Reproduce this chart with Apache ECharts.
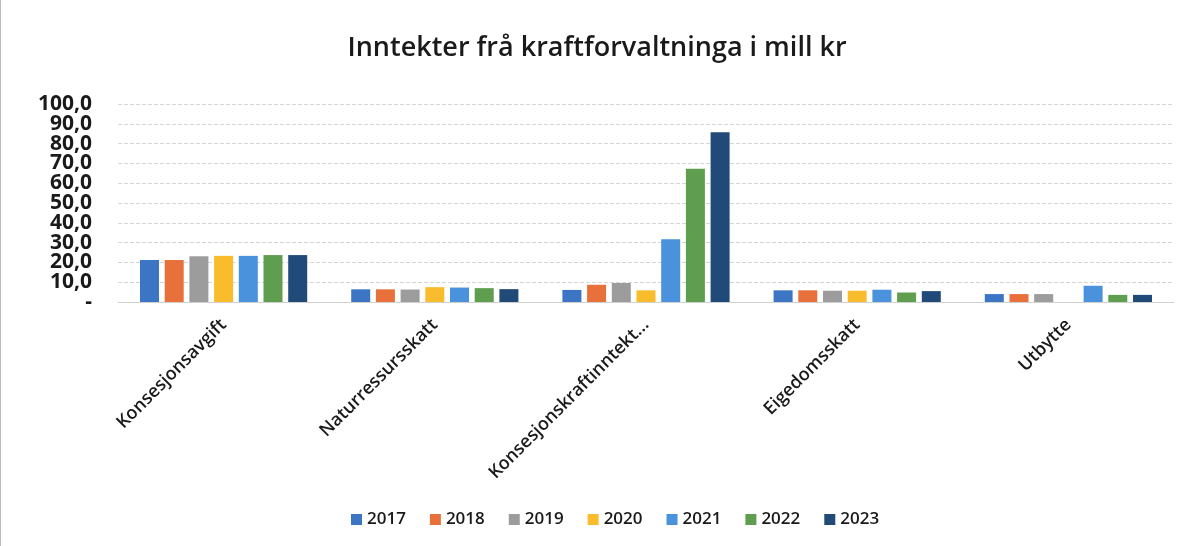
<!DOCTYPE html>
<html>
<head>
<meta charset="utf-8">
<script src="https://cdn.jsdelivr.net/npm/echarts@6/dist/echarts.min.js"></script>
<style>
  html, body { margin: 0; padding: 0; background: #fff; }
  #chart { width: 1193px; height: 546px; box-sizing: border-box; border-left: 1px solid #bbb; }
</style>
</head>
<body>
<div id="chart"></div>
<script>
// categories and values (mill kr)
const categories = ['Konsesjonsavgift', 'Naturressursskatt', 'Konsesjonskraftinntekt...', 'Eigedomsskatt', 'Utbytte']
const years = ['2017', '2018', '2019', '2020', '2021', '2022', '2023']
const v2017 = [21.2, 6.4, 6.1, 5.9, 4.0]
const v2018 = [21.2, 6.4, 8.7, 5.9, 4.0]
const v2019 = [23.1, 6.3, 9.6, 5.7, 4.0]
const v2020 = [23.3, 7.5, 5.9, 5.7, 0]
const v2021 = [23.3, 7.3, 31.7, 6.2, 8.2]
const v2022 = [23.7, 7.0, 67.3, 4.8, 3.6]
const v2023 = [23.7, 6.5, 85.7, 5.5, 3.6]
const yearValues = [v2017, v2018, v2019, v2020, v2021, v2022, v2023]
const colors = ['#3B75C4', '#E8703A', '#9C9C9C', '#F8BC2C', '#4A92DC', '#5E9E4E', '#214A78']
// y tick labels, split over two axes so the big bold labels are not dropped as overlapping
const evenTicks = [0, 20, 40, 60, 80, 100]
const oddTicks = [10, 30, 50, 70, 90]

const font = '"Open Sans", "Liberation Sans", sans-serif'

const chart = echarts.init(document.getElementById('chart'))

const series = years.map((y, i) => ({
  name: y,
  type: 'bar',
  data: yearValues[i],
  barWidth: 19,
  barGap: '30%',
  itemStyle: { color: colors[i] },
}))

const yLabel = (ticks) => ({
  margin: 26,
  customValues: ticks,
  fontFamily: font,
  fontSize: 21,
  fontWeight: 700,
  color: '#1a1a1a',
  formatter: (v) => (v === 0 ? '-' : v.toFixed(1).replace('.', ',')),
})

chart.setOption({
  animation: false,
  title: {
    text: 'Inntekter frå kraftforvaltninga i mill kr',
    left: 'center',
    top: 30,
    textStyle: { fontFamily: font, fontSize: 27, fontWeight: 600, color: '#1a1a1a' },
  },
  legend: {
    bottom: 13,
    left: 345,
    itemWidth: 11,
    itemHeight: 11,
    itemGap: 24,
    icon: 'rect',
    textStyle: { fontFamily: font, fontSize: 17, fontWeight: 600, color: '#1a1a1a' },
  },
  grid: { left: 117, right: 19, top: 104, bottom: 244, containLabel: false },
  xAxis: {
    type: 'category',
    data: categories,
    axisTick: { show: false },
    axisLine: { lineStyle: { color: '#d0d0d0' } },
    axisLabel: {
      rotate: 45,
      interval: 0,
      margin: 20,
      fontFamily: font,
      fontSize: 18,
      fontWeight: 600,
      color: '#1a1a1a',
    },
  },
  yAxis: [
    {
      type: 'value',
      min: 0,
      max: 100,
      interval: 10,
      axisLine: { show: false },
      axisTick: { show: false },
      splitLine: { lineStyle: { color: '#d6d6d6', type: 'dashed' } },
      axisLabel: yLabel(evenTicks),
    },
    {
      type: 'value',
      position: 'left',
      min: 0,
      max: 100,
      interval: 10,
      axisLine: { show: false },
      axisTick: { show: false },
      splitLine: { show: false },
      axisLabel: yLabel(oddTicks),
    },
  ],
  series,
})
</script>
</body>
</html>
